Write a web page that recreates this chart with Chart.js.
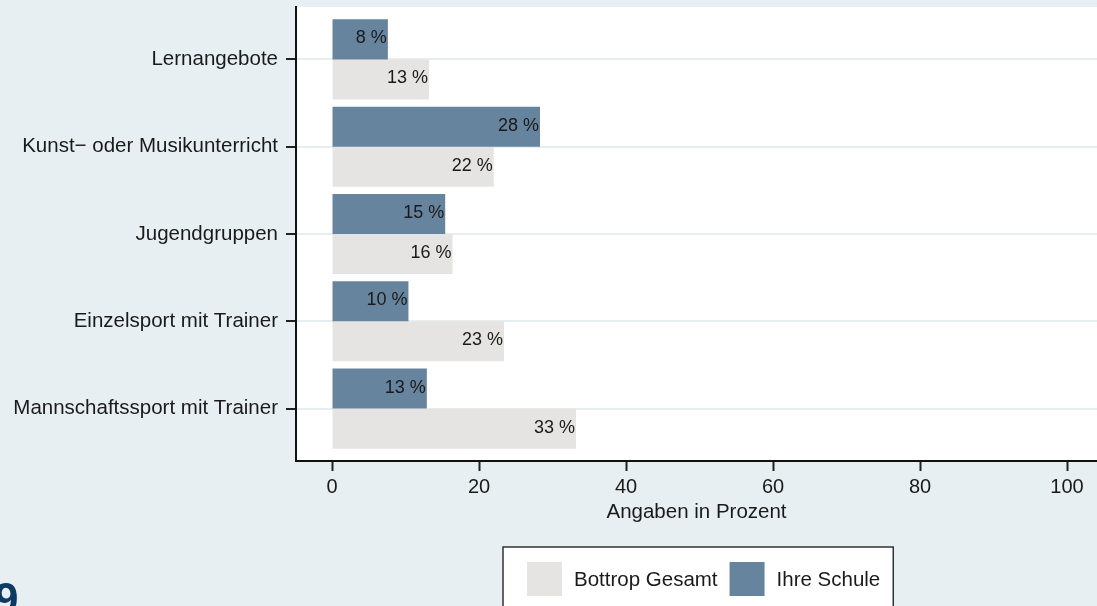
<!DOCTYPE html>
<html>
<head>
<meta charset="utf-8">
<script src="https://cdn.jsdelivr.net/npm/chart.js@4"></script>
<style>
  html, body { margin: 0; padding: 0; background: #e8eff2; overflow: hidden; }
  #wrap { position: relative; width: 1097px; height: 606px; }
  canvas { display: block; }
</style>
</head>
<body>
<div id="wrap"><canvas id="c" width="1097" height="606"></canvas></div>
<script>
// ---- data ----
const categories = [
  "Lernangebote",
  "Kunst\u2212 oder Musikunterricht",
  "Jugendgruppen",
  "Einzelsport mit Trainer",
  "Mannschaftssport mit Trainer"
];
const ihreSchule = [7.6, 28.3, 15.4, 10.4, 12.9];
const bottropGesamt = [13.2, 22.0, 16.4, 23.4, 33.2];
const seriesLabels = ["Ihre Schule", "Bottrop Gesamt"];
const legendOrder = [1, 0];
const xTicks = [0, 20, 40, 60, 80, 100];
const xTitle = "Angaben in Prozent";
const pageNumber = "9";

const FONT = "'Liberation Sans', Arial, sans-serif";
const COL_DARK = "#67849e";
const COL_LIGHT = "#e6e4e2";

function toPoints(arr) { return arr.map((v, i) => ({ x: v, y: i })); }

const plotBg = {
  id: 'plotBg',
  beforeDraw(chart) {
    const { ctx, chartArea: a } = chart;
    ctx.save();
    ctx.fillStyle = '#ffffff';
    ctx.fillRect(a.left, a.top, a.right - a.left, a.bottom - a.top);
    ctx.restore();
  }
};

const barLabels = {
  id: 'barLabels',
  afterDatasetsDraw(chart) {
    const ctx = chart.ctx;
    ctx.save();
    ctx.font = "18px " + FONT;
    ctx.fillStyle = "#1a1a1a";
    ctx.textAlign = "right";
    ctx.textBaseline = "middle";
    chart.data.datasets.forEach((ds, di) => {
      const meta = chart.getDatasetMeta(di);
      meta.data.forEach((el, i) => {
        const v = ds.data[i].x;
        ctx.fillText(Math.round(v) + " %", el.x - 1, el.y - 1);
      });
    });
    ctx.restore();
  }
};

const boxLegend = {
  id: 'boxLegend',
  afterDraw(chart) {
    const ctx = chart.ctx;
    ctx.save();
    ctx.font = "20.5px " + FONT;
    const bx = 503, by = 547, bh = 80;
    const pad = 24, sw = 35, sh = 34, gap = 12;
    let widths = legendOrder.map(i => ctx.measureText(chart.data.datasets[i].label).width);
    let total = pad + widths.reduce((s, w) => s + sw + gap + w, 0) + gap * (legendOrder.length - 1) + 13;
    ctx.fillStyle = '#ffffff';
    ctx.fillRect(bx, by, total, bh);
    ctx.strokeStyle = '#333333';
    ctx.lineWidth = 1.5;
    ctx.strokeRect(bx, by, total, bh);
    let x = bx + pad;
    legendOrder.forEach((di, k) => {
      const ds = chart.data.datasets[di];
      ctx.fillStyle = ds.backgroundColor;
      ctx.fillRect(x, 562, sw, sh);
      x += sw + gap;
      ctx.fillStyle = '#1a1a1a';
      ctx.textAlign = 'left';
      ctx.textBaseline = 'middle';
      ctx.fillText(ds.label, x, 580);
      x += widths[k] + gap;
    });
    // page number fragment
    ctx.font = "bold 44px " + FONT;
    ctx.fillStyle = '#0d3a63';
    ctx.textAlign = 'left';
    ctx.textBaseline = 'alphabetic';
    ctx.fillText(pageNumber, -6, 614);
    ctx.restore();
  }
};

new Chart(document.getElementById('c'), {
  type: 'bar',
  data: {
    datasets: [
      { label: seriesLabels[0], data: toPoints(ihreSchule), backgroundColor: COL_DARK, borderWidth: 0 },
      { label: seriesLabels[1], data: toPoints(bottropGesamt), backgroundColor: COL_LIGHT, borderWidth: 0 }
    ]
  },
  options: {
    indexAxis: 'y',
    responsive: false,
    animation: false,
    devicePixelRatio: 1,
    categoryPercentage: 0.917,
    barPercentage: 1,
    layout: { padding: { top: 7, right: 0, bottom: 81, left: 0 } },
    plugins: { legend: { display: false }, tooltip: { enabled: false } },
    scales: {
      x: {
        type: 'linear',
        min: -4.9,
        max: 104.08,
        afterBuildTicks: s => { s.ticks = xTicks.map(v => ({ value: v })); },
        afterFit: s => { s.height = 64; s.paddingLeft = 0; s.paddingRight = 0; },
        border: { display: true, color: '#111', width: 2 },
        grid: { drawOnChartArea: false, drawTicks: true, tickLength: 10, tickColor: '#222', tickWidth: 2 },
        ticks: { color: '#1a1a1a', font: { family: FONT, size: 20 }, padding: 4, maxRotation: 0 },
        title: { display: true, text: xTitle, color: '#1a1a1a', font: { family: FONT, size: 20.5 }, padding: { top: 0, bottom: 0 } }
      },
      y: {
        type: 'linear',
        reverse: true,
        offset: false,
        min: -0.6,
        max: 4.6,
        afterBuildTicks: s => { s.ticks = categories.map((c, i) => ({ value: i })); },
        afterFit: s => { s.width = 296; s.paddingTop = 0; s.paddingBottom = 0; },
        border: { display: true, color: '#111', width: 2 },
        grid: { offset: false, color: '#e6eef2', lineWidth: 2, drawTicks: true, tickLength: 10, tickColor: '#222', tickWidth: 2 },
        ticks: { color: '#1a1a1a', font: { family: FONT, size: 20.5 }, padding: 8,
                 callback: v => categories[v] }
      }
    }
  },
  plugins: [plotBg, barLabels, boxLegend]
});
</script>
</body>
</html>
